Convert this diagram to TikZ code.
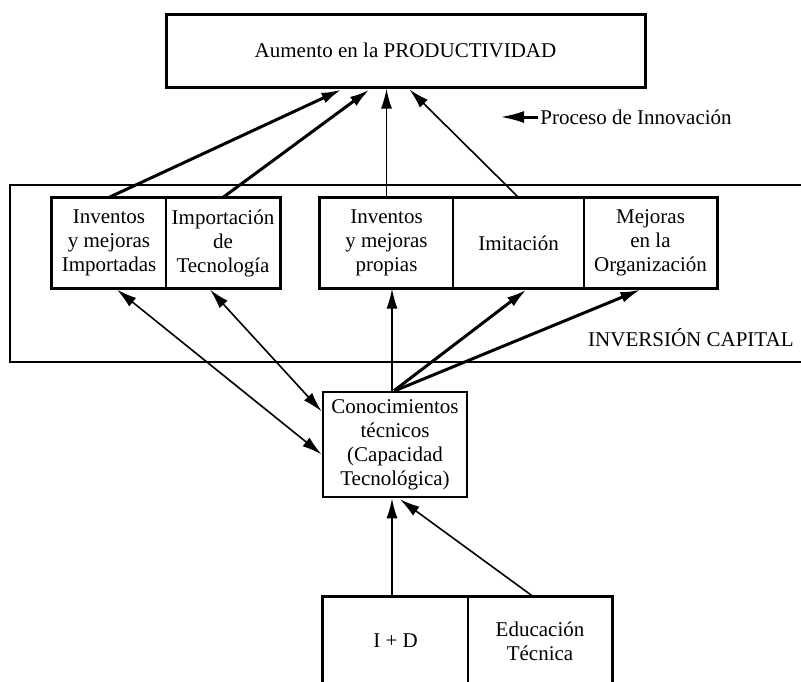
\documentclass[tikz,border=0pt]{standalone}
\usepackage{fontspec}
\setmainfont{Liberation Serif}
\usetikzlibrary{arrows.meta,calc}

\begin{document}
\begin{tikzpicture}[x=0.5pt,y=-0.5pt,
  every node/.style={font=\fontsize{10.5}{12}\selectfont},
  >={Latex[length=10pt,width=5.5pt]}]
\useasboundingbox (0,0) rectangle (801,681);
\clip (0,0) rectangle (801,681);

\draw[line width=0.8pt] (820,185) -- (10,185) -- (10,362) -- (820,362);
\node[anchor=east, inner sep=0pt] (IC) at (794,338) {INVERSIÓN CAPITAL};

\node[draw, line width=1.5pt, minimum width=239.5pt, minimum height=36.5pt] (P) at (405.5,50.5) {Aumento en la PRODUCTIVIDAD};
\node[anchor=west, inner sep=1pt] (Pr) at (538,117) {Proceso de Innovación};

\begin{scope}[every node/.style={draw, line width=0.6pt, inner sep=0pt, align=center, minimum height=45pt, font=\fontsize{10.5}{12}\selectfont}]
\node[minimum width=57pt] (G1) at (109,243) {Inventos\\y mejoras\\Importadas};
\node[minimum width=57pt] (G2) at (223,243) {Importación\\de\\Tecnología};
\node[minimum width=66.5pt] (G3) at (386.5,243) {Inventos\\y mejoras\\propias};
\node[minimum width=65.5pt] (G4) at (518.5,243) {Imitación};
\node[minimum width=66.5pt] (G5) at (650.5,243) {Mejoras\\en la\\Organización};
\node[minimum width=72.5pt, minimum height=44pt] (B1) at (395.5,641) {I + D};
\node[minimum width=72pt, minimum height=44pt] (B2) at (540,641) {Educación\\Técnica};
\end{scope}

\node[draw, line width=1.3pt, align=center, inner sep=0pt, minimum width=72pt, minimum height=52.5pt] (K) at (395,444.5) {Conocimientos\\técnicos\\(Capacidad\\Tecnológica)};

\draw[line width=1.3pt] (G1.north west) rectangle (G2.south east);
\draw[line width=1.3pt] (G3.north west) rectangle (G5.south east);
\draw[line width=1.3pt] (B1.north west) rectangle (B2.south east);

\coordinate (K3) at ($(K.north)+(-3,0)$);
\coordinate (K4) at ($(K.south)+(-3,0)$);
\coordinate (PrT) at ($(Pr.west)+(-38,0)$);

\begin{scope}[every edge/.style={draw, line width=1.5pt}]
    \path [->] (G1.north) edge ($(P.south)+(-64,1)$);
    \path [->] (G2.north) edge ($(P.south)+(-36,1)$);
    \path [->] ($(K.north)+(-1,0)$) edge ($(G4.south)+(8,1)$);
    \path [->] (K.north) edge ($(G5.south)+(-10,1)$);
    \path [->, >={Latex[length=12pt,width=6pt]}] (Pr.west) edge (PrT);
\end{scope}

\begin{scope}[every edge/.style={draw, line width=0.8pt}]
    \path [->] (G3.north) edge (G3.north |- P.south);
    \path [->] (G4.north) edge ($(P.south)+(4,1)$);
    \path [<->] ($(G1.south)+(8,1)$) edge ($(K.west)+(0,10)$);
    \path [<->] ($(G2.south)+(-13,1)$) edge ($(K.west)+(0,-33)$);
    \path [->] (K3) edge (K3 |- G3.south);
    \path [->] ($(B2.north)+(-7,0)$) edge ($(K.south)+(5,1)$);
    \path [->, line width=1.1pt] (K4 |- B1.north) edge (K4);
\end{scope}
\end{tikzpicture}
\end{document}
